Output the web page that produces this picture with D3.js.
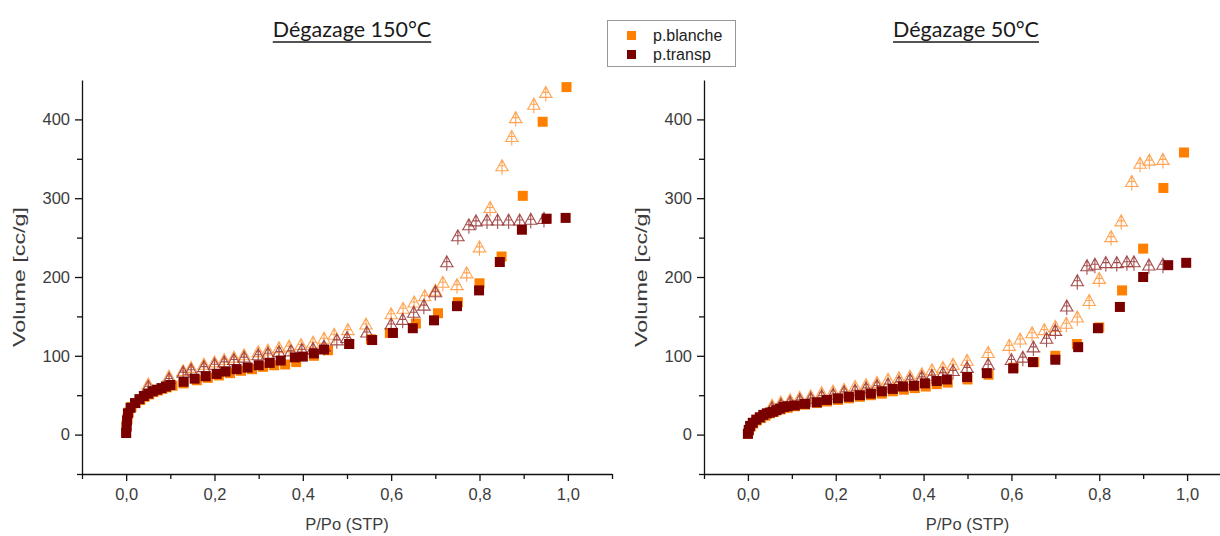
<!DOCTYPE html>
<html><head><meta charset="utf-8">
<script src="https://cdn.jsdelivr.net/npm/d3@7"></script>
<style>body{margin:0;background:#fff}svg{display:block}</style>
</head><body>
<script>
// ---- data ----
const titles = ["Dégazage 150°C", "Dégazage 50°C"];
const seriesNames = ["p.blanche", "p.transp"];
const xTickValues = [0, 0.2, 0.4, 0.6, 0.8, 1.0];
const yTickValues = [0, 100, 200, 300, 400];

// Left chart (150°C)
const L_blanche_adsP = [0, 0.001, 0.003, 0.006, 0.012, 0.022, 0.032, 0.042, 0.052, 0.062, 0.072, 0.082, 0.092, 0.105, 0.13, 0.16, 0.185, 0.21, 0.235, 0.26, 0.285, 0.31, 0.335, 0.36, 0.385, 0.425, 0.457, 0.505, 0.554, 0.597, 0.656, 0.706, 0.751, 0.80, 0.85, 0.898, 0.943, 0.997];
const L_blanche_adsV = [3, 12, 20, 28, 35, 40, 44, 48, 51, 54, 56, 58, 60, 62, 65, 69, 72, 75, 78, 81, 83, 86, 88, 89, 92, 100, 107, 115, 121, 129, 141, 154, 168, 192, 226, 303, 397, 441];
const L_transp_adsP = [0, 0.001, 0.002, 0.004, 0.01, 0.02, 0.03, 0.04, 0.05, 0.06, 0.07, 0.08, 0.09, 0.10, 0.13, 0.155, 0.18, 0.205, 0.225, 0.25, 0.275, 0.30, 0.325, 0.35, 0.382, 0.40, 0.425, 0.448, 0.505, 0.557, 0.604, 0.649, 0.697, 0.749, 0.799, 0.846, 0.896, 0.952, 0.995];
const L_transp_adsV = [2, 10, 18, 27, 34, 40, 45, 49, 52, 55, 57, 59, 61, 63, 67, 71, 74, 77, 80, 83, 85, 88, 91, 94, 98, 99, 103, 108, 115, 120, 129, 135, 145, 163, 183, 219, 260, 274, 275];
const L_blanche_desP = [0.95, 0.923, 0.882, 0.873, 0.851, 0.824, 0.80, 0.771, 0.749, 0.717, 0.70, 0.676, 0.652, 0.627, 0.60, 0.543, 0.502, 0.471, 0.448, 0.423, 0.396, 0.369, 0.346, 0.321, 0.299, 0.267, 0.244, 0.222, 0.20, 0.176, 0.147, 0.129, 0.097, 0.05];
const L_blanche_desV = [433, 418, 401, 377, 340, 287, 237, 204, 189, 192, 182, 175, 167, 159, 152, 139, 132, 126, 121, 116, 113, 111, 109, 106, 104, 100, 97, 94, 91, 88, 84, 80, 73, 63];
const L_transp_desP = [0.946, 0.916, 0.891, 0.866, 0.841, 0.817, 0.792, 0.776, 0.751, 0.726, 0.70, 0.674, 0.651, 0.626, 0.60, 0.545, 0.50, 0.477, 0.448, 0.423, 0.398, 0.373, 0.346, 0.321, 0.299, 0.267, 0.244, 0.222, 0.20, 0.176, 0.147, 0.129, 0.097, 0.05];
const L_transp_desV = [273, 272, 271, 271, 271, 271, 270, 265, 251, 218, 180, 163, 154, 145, 139, 129, 122, 119, 111, 108, 107, 105, 104, 102, 100, 97, 94, 91, 88, 85, 81, 78, 70, 60];

// Right chart (50°C)
const R_blanche_adsP = [0, 0.002, 0.006, 0.012, 0.02, 0.03, 0.04, 0.05, 0.06, 0.075, 0.09, 0.107, 0.13, 0.157, 0.18, 0.205, 0.23, 0.255, 0.28, 0.305, 0.33, 0.355, 0.38, 0.405, 0.43, 0.455, 0.50, 0.548, 0.605, 0.652, 0.70, 0.749, 0.80, 0.852, 0.90, 0.946, 0.993];
const R_blanche_adsV = [1, 5, 10, 14, 18, 21, 24, 27, 29, 32, 34, 36, 38, 40, 42, 44, 46, 48, 50, 52, 55, 57, 59, 61, 64, 66, 70, 76, 85, 92, 100, 115, 136, 183, 236, 313, 358];
const R_transp_adsP = [0, 0.002, 0.005, 0.011, 0.019, 0.027, 0.035, 0.043, 0.05, 0.057, 0.065, 0.073, 0.082, 0.091, 0.107, 0.13, 0.157, 0.18, 0.205, 0.23, 0.255, 0.28, 0.305, 0.33, 0.353, 0.378, 0.403, 0.43, 0.453, 0.499, 0.544, 0.604, 0.649, 0.70, 0.752, 0.797, 0.847, 0.90, 0.957, 0.998];
const R_transp_adsV = [1, 6, 11, 15, 19, 22, 25, 27, 28, 29, 31, 33, 35, 36, 37, 39, 41, 44, 46, 48, 50, 52, 55, 58, 61, 62, 65, 68, 70, 73, 78, 84, 92, 95, 111, 135, 162, 200, 215, 218];
const R_blanche_desP = [0.945, 0.914, 0.893, 0.874, 0.85, 0.827, 0.80, 0.777, 0.75, 0.725, 0.70, 0.675, 0.647, 0.62, 0.595, 0.547, 0.499, 0.467, 0.444, 0.419, 0.396, 0.369, 0.344, 0.319, 0.294, 0.269, 0.244, 0.219, 0.194, 0.168, 0.143, 0.118, 0.096, 0.075, 0.055];
const R_blanche_desV = [348, 347, 343, 320, 270, 250, 197, 169, 148, 140, 136, 132, 128, 120, 112, 103, 93, 88, 84, 81, 76, 73, 71, 69, 65, 62, 60, 56, 54, 52, 48, 46, 43, 40, 36];
const R_transp_desP = [0.945, 0.913, 0.879, 0.863, 0.84, 0.815, 0.79, 0.772, 0.75, 0.726, 0.70, 0.68, 0.65, 0.626, 0.60, 0.547, 0.499, 0.467, 0.444, 0.419, 0.396, 0.369, 0.344, 0.319, 0.294, 0.269, 0.244, 0.219, 0.194, 0.168, 0.143, 0.118, 0.096, 0.075, 0.055];
const R_transp_desV = [215, 214, 218, 218, 217, 217, 215, 213, 194, 162, 131, 121, 110, 97, 94, 88, 84, 80, 77, 74, 72, 69, 66, 63, 61, 58, 55, 53, 50, 48, 45, 43, 40, 37, 33];

// ---- drawing ----
const W = 1220, H = 536;
const FONT = "Liberation Sans, Arial, sans-serif";
const colors = {blanche: "#FF8000", transp: "#7A0000"};
const triColors = {blanche: "#FF9A40", transp: "#9A3A3A"};
const svg = d3.select("body").append("svg").attr("width", W).attr("height", H);
const zip = (a, b) => a.map((v, i) => [v, b[i]]);

const panels = [
  {title: titles[0], left: 82, right: 612, tc: 352,
   sets: [["blanche", L_blanche_adsP, L_blanche_adsV, L_blanche_desP, L_blanche_desV],
          ["transp", L_transp_adsP, L_transp_adsV, L_transp_desP, L_transp_desV]]},
  {title: titles[1], left: 704, right: 1231, tc: 966,
   sets: [["blanche", R_blanche_adsP, R_blanche_adsV, R_blanche_desP, R_blanche_desV],
          ["transp", R_transp_adsP, R_transp_adsV, R_transp_desP, R_transp_desV]]}
];

const triPath = "M0,-7L-6,4L6,4Z M0,-7L0,8 M-7,4L7,4 M-3.5,-1L3.5,-1";

panels.forEach(p => {
  const x = d3.scaleLinear().domain([-0.1, 1.1]).range([p.left, p.right]);
  const y = d3.scaleLinear().domain([-50, 450]).range([474, 80]);
  const g = svg.append("g");
  const fmt = d => d3.format(".1f")(d).replace(".", ",");

  g.append("g").attr("transform", "translate(0,474)")
    .call(d3.axisBottom(x).tickValues(xTickValues).tickFormat(fmt).tickSize(7).tickSizeOuter(0).tickPadding(7));
  g.append("g").attr("transform", "translate(0,474)")
    .call(d3.axisBottom(x).tickValues([-0.1, 0.1, 0.3, 0.5, 0.7, 0.9, 1.1]).tickFormat("").tickSize(5).tickSizeOuter(0))
    .select(".domain").remove();
  g.append("g").attr("transform", `translate(${p.left},0)`)
    .call(d3.axisLeft(y).tickValues(yTickValues).tickSize(7).tickSizeOuter(0).tickPadding(5));
  g.append("g").attr("transform", `translate(${p.left},0)`)
    .call(d3.axisLeft(y).tickValues([-50, 50, 150, 250, 350]).tickFormat("").tickSize(5).tickSizeOuter(0))
    .select(".domain").remove();
  g.selectAll(".domain, .tick line").attr("stroke", "#111").attr("stroke-width", 1.3);
  g.selectAll(".tick text").attr("font-family", FONT).attr("font-size", 16.5).attr("fill", "#3c3c3c");

  g.append("text").attr("x", (p.left + p.right) / 2).attr("y", 530)
    .attr("text-anchor", "middle").attr("font-family", FONT)
    .attr("font-size", 16.5).attr("fill", "#3c3c3c").text("P/Po (STP)");
  g.append("text").attr("transform", `translate(${p.left - 57},277) rotate(-90)`)
    .attr("text-anchor", "middle").attr("font-family", FONT)
    .attr("font-size", 17).attr("fill", "#3c3c3c")
    .attr("textLength", 140).attr("lengthAdjust", "spacingAndGlyphs").text("Volume [cc/g]");

  const t = g.append("text").attr("x", p.tc).attr("y", 37).attr("text-anchor", "middle")
    .attr("font-family", "Lato, Carlito, sans-serif").attr("font-size", 21.5).attr("fill", "#1a1a1a")
    .text(p.title);
  const bb = t.node().getBBox();
  g.append("line").attr("x1", bb.x).attr("x2", bb.x + bb.width).attr("y1", 42).attr("y2", 42)
    .attr("stroke", "#1a1a1a").attr("stroke-width", 1.4);

  p.sets.forEach(([key, aP, aV, dP, dV]) => {
    g.append("g").selectAll("path").data(zip(dP, dV)).join("path")
      .attr("transform", d => `translate(${x(d[0])},${y(d[1])})`)
      .attr("d", triPath).attr("fill", "none").attr("stroke", triColors[key])
      .attr("stroke-width", 1.1).attr("opacity", 0.9);
    g.append("g").selectAll("rect").data(zip(aP, aV)).join("rect")
      .attr("x", d => x(d[0]) - 5).attr("y", d => y(d[1]) - 5)
      .attr("width", 10).attr("height", 10).attr("fill", colors[key]);
  });
});

const lg = svg.append("g");
lg.append("rect").attr("x", 607.5).attr("y", 20.5).attr("width", 128).attr("height", 46)
  .attr("fill", "#fff").attr("stroke", "#999").attr("stroke-width", 1);
seriesNames.forEach((n, i) => {
  const key = i === 0 ? "blanche" : "transp";
  lg.append("rect").attr("x", 627).attr("y", 31 + i * 19).attr("width", 9).attr("height", 9).attr("fill", colors[key]);
  lg.append("text").attr("x", 653).attr("y", 41 + i * 19).attr("font-family", FONT)
    .attr("font-size", 16).attr("fill", "#222").text(n);
});
</script>
</body></html>
